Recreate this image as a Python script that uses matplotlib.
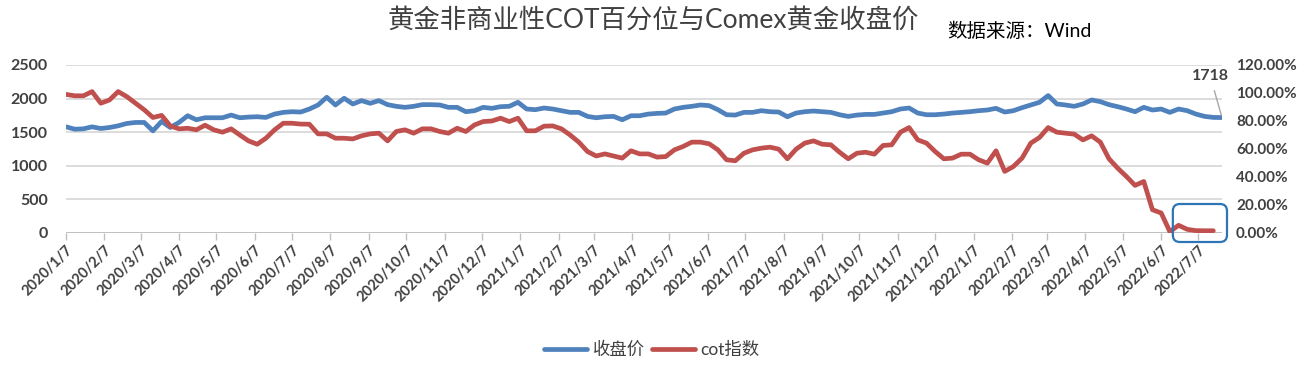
import matplotlib
matplotlib.use("Agg")
import matplotlib.pyplot as plt
import matplotlib.dates as mdates
from matplotlib.patches import FancyBboxPatch
from matplotlib.transforms import IdentityTransform
from matplotlib.ticker import FuncFormatter
import pandas as pd

# 周度数据, 2020/1/7 起
start_date = "2020-01-07"

close_price = [
    1580, 1545, 1550, 1580, 1555, 1570, 1595, 1630, 1645, 1645,
    1520, 1660, 1570, 1645, 1745, 1685, 1715, 1715, 1715, 1755,
    1715, 1725, 1730, 1720, 1770, 1795, 1805, 1800, 1845, 1905,
    2020, 1905, 2005, 1920, 1970, 1930, 1970, 1910, 1885, 1870,
    1885, 1910, 1910, 1905, 1870, 1870, 1805, 1820, 1870, 1855,
    1880, 1885, 1945, 1845, 1835, 1860, 1845, 1820, 1795, 1795,
    1735, 1715, 1730, 1735, 1685, 1745, 1745, 1770, 1780, 1785,
    1845, 1870, 1885, 1905, 1895, 1835, 1760, 1755, 1795, 1795,
    1820, 1805, 1800, 1730, 1785, 1805, 1815, 1805, 1795, 1760,
    1735, 1755, 1765, 1765, 1785, 1805, 1845, 1860, 1785, 1760,
    1760, 1770, 1785, 1795, 1805, 1820, 1830, 1855, 1800, 1820,
    1865, 1905, 1945, 2045, 1920, 1905, 1885, 1920, 1980, 1955,
    1910, 1880, 1845, 1805, 1870, 1830, 1845, 1795, 1845, 1820,
    1770, 1735, 1720, 1718,
]

cot_index = [
    99.0, 98.0, 98.0, 101.0, 92.7, 95.0, 101.0, 97.4, 92.7, 88.0,
    82.5, 84.0, 76.5, 74.4, 74.8, 73.7, 77.0, 73.7, 72.0, 74.4,
    70.0, 65.8, 63.4, 67.7, 73.7, 78.4, 78.4, 77.8, 77.7, 70.8,
    70.8, 67.7, 67.7, 67.2, 69.4, 70.8, 71.3, 65.8, 72.5, 73.7,
    71.3, 74.4, 74.4, 72.5, 71.3, 74.8, 72.5, 77.2, 79.6, 80.0,
    82.0, 79.6, 82.0, 73.0, 73.0, 76.3, 76.5, 74.4, 70.0, 64.9,
    58.2, 55.0, 56.5, 55.0, 53.5, 58.7, 56.5, 56.5, 54.2, 54.6,
    59.4, 61.8, 64.9, 64.9, 63.7, 59.4, 52.3, 51.6, 57.0, 59.4,
    60.6, 61.3, 59.9, 53.0, 59.9, 64.2, 65.8, 63.4, 63.0, 57.7,
    53.0, 57.0, 57.7, 56.3, 62.5, 63.0, 72.0, 75.3, 66.5, 64.2,
    58.2, 53.0, 53.5, 56.3, 56.3, 52.3, 49.9, 58.7, 44.0, 47.5,
    53.5, 64.2, 68.2, 75.3, 72.0, 71.3, 70.6, 66.5, 69.4, 64.9,
    53.0, 46.3, 40.4, 34.0, 36.8, 16.6, 14.3, 1.0, 5.5, 2.6,
    1.7, 1.6, 1.6,
]

tick_labels = [
    "2020/1/7", "2020/2/7", "2020/3/7", "2020/4/7", "2020/5/7", "2020/6/7",
    "2020/7/7", "2020/8/7", "2020/9/7", "2020/10/7", "2020/11/7", "2020/12/7",
    "2021/1/7", "2021/2/7", "2021/3/7", "2021/4/7", "2021/5/7", "2021/6/7",
    "2021/7/7", "2021/8/7", "2021/9/7", "2021/10/7", "2021/11/7", "2021/12/7",
    "2022/1/7", "2022/2/7", "2022/3/7", "2022/4/7", "2022/5/7", "2022/6/7",
    "2022/7/7",
]

dates = pd.date_range(start_date, periods=len(close_price), freq="7D")
tick_dates = pd.to_datetime(tick_labels, format="%Y/%m/%d")

plt.rcParams["font.family"] = ["Lato", "Noto Sans CJK SC", "DejaVu Sans"]

W, H = 1298, 372
fig = plt.figure(figsize=(W / 100, H / 100), dpi=100)

ax = fig.add_axes([66 / W, 1 - 233 / H, (1222 - 66) / W, 168 / H])
ax2 = ax.twinx()

blue = "#4F81BD"
red = "#C0504D"
l1, = ax.plot(dates, close_price, color=blue, lw=3.4, label="收盘价",
              solid_joinstyle="round", solid_capstyle="round")
l2, = ax2.plot(dates[:len(cot_index)], cot_index, color=red, lw=3.4, label="cot指数",
               solid_joinstyle="round", solid_capstyle="round")

ax.set_ylim(0, 2500)
ax.set_yticks(range(0, 2501, 500))
ax2.set_ylim(0, 120)
ax2.set_yticks(range(0, 121, 20))
ax2.yaxis.set_major_formatter(FuncFormatter(lambda v, p: f"{v:.2f}%"))

ax.set_xlim(dates[0], dates[-1])
ax.set_xticks(tick_dates)
ax.set_xticklabels(tick_labels, rotation=45, ha="right", rotation_mode="anchor")

ax.grid(axis="y", color="#D9D9D9", lw=1.3)
ax.set_axisbelow(True)
for a in (ax, ax2):
    for s in ("top", "left", "right", "bottom"):
        a.spines[s].set_visible(False)
ax.axhline(0, color="#BFBFBF", lw=1.3, zorder=1)

ax.tick_params(axis="x", length=5, color="#BFBFBF", width=1, labelsize=10.5,
               labelcolor="#404040", pad=2)
ax.tick_params(axis="y", length=0, labelsize=11.5, labelcolor="#404040", pad=13)
ax2.tick_params(axis="y", length=0, labelsize=11, labelcolor="#404040", pad=10)
for lbl in ax.get_xticklabels() + ax.get_yticklabels() + ax2.get_yticklabels():
    lbl.set_fontweight("bold")

ax.annotate(str(close_price[-1]), xy=(dates[-1], close_price[-1]), xytext=(-12, 42),
            textcoords="offset pixels", ha="center", va="center", fontsize=11.5,
            fontweight="bold", color="#404040",
            arrowprops=dict(arrowstyle="-", color="#A6A6A6", lw=1, shrinkA=4, shrinkB=2))

# 标注最近几周的框
x0 = ax.transData.transform((mdates.date2num(dates[127]), 0))
x1 = ax.transData.transform((mdates.date2num(dates[-1]), 0))
box = FancyBboxPatch((x0[0] + 3, x0[1] - 9), x1[0] - x0[0] + 2, 38,
                     boxstyle="round,pad=0,rounding_size=7", transform=IdentityTransform(),
                     fill=False, ec="#2E75B6", lw=1.6, zorder=5)
fig.add_artist(box)

fig.text(0.503, 1 - 20 / H, "黄金非商业性COT百分位与Comex黄金收盘价", fontsize=19,
         color="#404040", ha="center", va="center")
fig.text(947 / W, 1 - 31 / H, "数据来源：Wind", fontsize=14, color="black",
         ha="left", va="center")

leg = fig.legend(handles=[l1, l2], loc="center", bbox_to_anchor=(0.502, 1 - 350 / H),
                 ncol=2, frameon=False, fontsize=12.5, handlelength=2.5,
                 handletextpad=0.3, columnspacing=0.4)
for t in leg.get_texts():
    t.set_color("#404040")

fig.savefig("out.png", dpi=100)
